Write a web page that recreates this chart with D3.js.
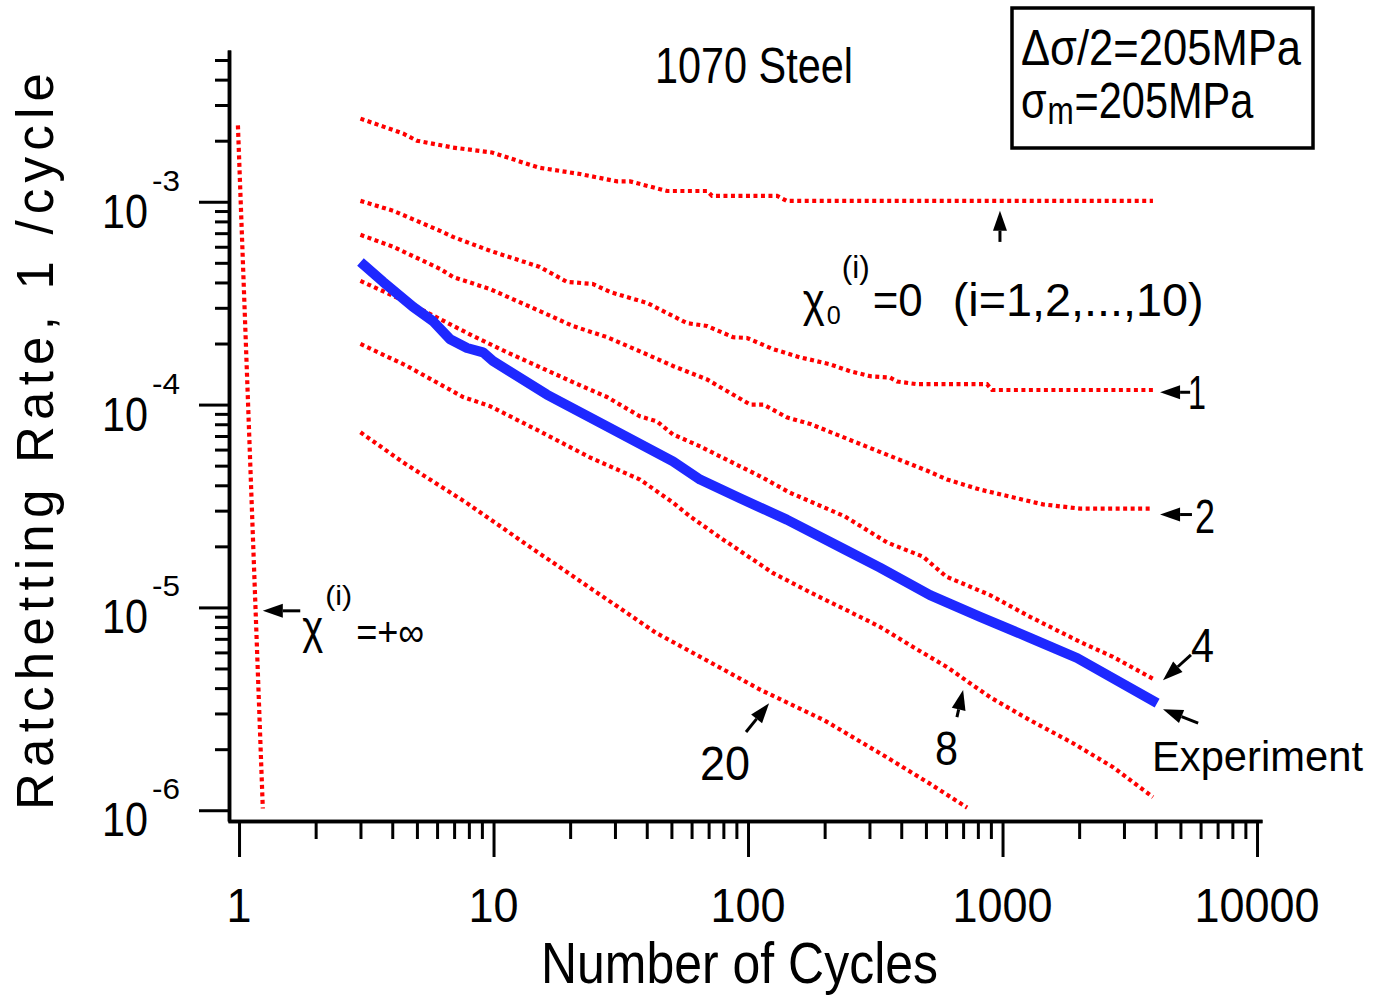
<!DOCTYPE html>
<html><head><meta charset="utf-8">
<script src="https://cdn.jsdelivr.net/npm/d3@7"></script>
<style>
html,body{margin:0;padding:0;background:#fff;}
svg{display:block;}
text{font-family:"Liberation Sans",Arial,sans-serif;fill:#000;}
</style></head>
<body>
<svg id="chart" width="1373" height="996"></svg>
<script>
// ---------- data ----------
const xTickValues = [1, 10, 100, 1000, 10000];
const xTickLabels = ["1", "10", "100", "1000", "10000"];
const yTickValues = [1e-6, 1e-5, 1e-4, 1e-3];
const yTickExponents = ["-6", "-5", "-4", "-3"];

// simulated curves: [cycles, ratchetting rate]
const chi0 = [[3,2.57e-3],[4.41,2.17e-3],[5.0,2.0e-3],[6.93,1.85e-3],[9.86,1.75e-3],[13.5,1.54e-3],[15.2,1.47e-3],[21.9,1.37e-3],[30.6,1.26e-3],[34.4,1.26e-3],[48.1,1.13e-3],[69,1.13e-3],[72.2,1.07e-3],[130,1.07e-3],[142,1.01e-3],[3900,1.01e-3]];
const chi1 = [[3,1.01e-3],[4.03,9.03e-4],[6.16,7.19e-4],[6.93,6.71e-4],[9.69,5.73e-4],[15.2,4.77e-4],[19.4,4.03e-4],[24.6,3.93e-4],[28.7,3.59e-4],[40.1,3.17e-4],[57.6,2.52e-4],[69,2.44e-4],[87.3,2.15e-4],[99.1,2.13e-4],[125,1.88e-4],[160,1.71e-4],[210,1.58e-4],[252,1.46e-4],[302,1.38e-4],[361,1.36e-4],[385,1.30e-4],[461,1.26e-4],[869,1.26e-4],[910,1.18e-4],[3900,1.18e-4]];
const chi2 = [[3,6.87e-4],[4.03,6.0e-4],[6.16,4.67e-4],[6.93,4.26e-4],[9.69,3.71e-4],[15.2,2.89e-4],[20.5,2.44e-4],[27.9,2.15e-4],[37.6,1.83e-4],[50.7,1.55e-4],[69,1.33e-4],[102,1.0e-4],[115,1.0e-4],[142,8.65e-5],[177,7.99e-5],[291,6.22e-5],[514,4.68e-5],[605,4.27e-5],[816,3.81e-5],[1443,3.22e-5],[2017,3.07e-5],[3900,3.07e-5]];
const chi4 = [[3,4.07e-4],[4.57,3.20e-4],[6.16,2.64e-4],[8.30,2.18e-4],[11.3,1.81e-4],[15.2,1.53e-4],[20.5,1.29e-4],[27.9,1.09e-4],[37.6,8.75e-5],[43.9,8.26e-5],[50.7,7.13e-5],[64.8,6.22e-5],[93,4.96e-5],[112,4.42e-5],[146,3.68e-5],[240,2.81e-5],[352,2.09e-5],[487,1.78e-5],[600,1.42e-5],[893,1.15e-5],[1282,8.99e-6],[2017,6.76e-6],[2719,5.70e-6],[3900,4.45e-6]];
const chi8 = [[3,1.99e-4],[4.57,1.55e-4],[7.59,1.09e-4],[9.69,9.82e-5],[15.2,7.38e-5],[23.9,5.49e-5],[37.6,4.27e-5],[50.7,3.29e-5],[59.2,2.81e-5],[76.9,2.23e-5],[125,1.48e-5],[177,1.18e-5],[291,8.69e-6],[330,8.02e-6],[445,6.38e-6],[605,5.08e-6],[893,3.61e-6],[1282,2.78e-6],[1892,2.14e-6],[2719,1.63e-6],[3900,1.16e-6]];
const chi20 = [[3,7.30e-5],[4.41,5.19e-5],[7.80,3.29e-5],[13.8,2.0e-5],[24.6,1.22e-5],[43.5,7.49e-6],[76.9,5.08e-6],[112,3.92e-6],[136,3.49e-6],[199,2.78e-6],[352,1.82e-6],[514,1.36e-6],[726,1.03e-6]];
const chiInf = [[0.99,2.38e-3],[1.24,1.02e-6]];
const experiment = [[3,5.05e-4],[3.68,4.03e-4],[4.83,3.03e-4],[5.78,2.58e-4],[6.75,2.10e-4],[7.87,1.90e-4],[9.09,1.81e-4],[9.95,1.64e-4],[16.2,1.12e-4],[27.9,7.81e-5],[50.7,5.25e-5],[64.8,4.27e-5],[93,3.45e-5],[142,2.71e-5],[240,1.93e-5],[330,1.57e-5],[519,1.15e-5],[816,8.99e-6],[1282,7.08e-6],[1963,5.63e-6],[4050,3.37e-6]];

// annotation arrows: [tip, tail] in data coordinates
const arrows = [
  [[977,9.03e-4],[977,6.34e-4]],
  [[4160,1.15e-4],[5460,1.15e-4]],
  [[4160,2.87e-5],[5550,2.87e-5]],
  [[4270,4.38e-6],[5500,5.83e-6]],
  [[4270,3.15e-6],[5870,2.69e-6]],
  [[700,3.92e-6],[662,2.88e-6]],
  [[121,3.37e-6],[98.2,2.43e-6]],
  [[1.24,9.62e-6],[1.74,9.62e-6]]
];
// curve labels: text, position (data), width
const curveLabels = [
  {t:"1", at:[5357,9.49e-5], w:18, s:48},
  {t:"2", at:[5705,2.34e-5], w:20, s:48},
  {t:"4", at:[5507,5.38e-6], w:23, s:48},
  {t:"8", at:[543,1.67e-6], w:23, s:48},
  {t:"20", at:[64.8,1.41e-6], w:50, s:48},
  {t:"Experiment", at:[3866,1.57e-6], w:211, s:43}
];

// ---------- scales ----------
const svg = d3.select("#chart");
const x = d3.scaleLog().domain([0.905, 10460]).range([228, 1262]);
const y = d3.scaleLog().domain([0.885e-6, 5.6e-3]).range([821, 50]);

function txt(parent, s, px, py, size, len, anchor, adj) {
  const t = parent.append("text").attr("x", px).attr("y", py)
    .attr("font-size", size).attr("text-anchor", anchor || "start").text(s);
  if (len) t.attr("textLength", len).attr("lengthAdjust", adj || "spacingAndGlyphs");
  return t;
}

// ---------- axes ----------
const xMinor = [];
for (let k = 0; k < 4; k++) for (let m = 2; m <= 9; m++) xMinor.push(m * Math.pow(10, k));
const yMinor = [];
for (let k = -6; k <= -3; k++) for (let m = 2; m <= 9; m++) { const v = m * Math.pow(10, k); if (v <= 5.2e-3) yMinor.push(v); }

function styleAxis(g) {
  g.select(".domain").attr("stroke-width", 3.5).attr("stroke", "#000");
  g.selectAll(".tick line").attr("stroke-width", 3).attr("stroke", "#000");
  g.selectAll(".tick text").remove();
}
svg.append("g").attr("transform", "translate(0,821)")
  .call(d3.axisBottom(x).tickValues(xMinor).tickSize(18).tickSizeOuter(0).tickFormat("")).call(styleAxis);
svg.append("g").attr("transform", "translate(0,821)")
  .call(d3.axisBottom(x).tickValues(xTickValues).tickSize(36).tickSizeOuter(0).tickFormat("")).call(styleAxis);
svg.append("g").attr("transform", "translate(229,0)")
  .call(d3.axisLeft(y).tickValues(yMinor).tickSize(14).tickSizeOuter(0).tickFormat("")).call(styleAxis);
svg.append("g").attr("transform", "translate(229,0)")
  .call(d3.axisLeft(y).tickValues(yTickValues).tickSize(30).tickSizeOuter(0).tickFormat("")).call(styleAxis);

// tick labels
xTickValues.forEach((v, i) => {
  txt(svg, xTickLabels[i], x(v), 922, 48, 25 * xTickLabels[i].length, "middle");
});
yTickValues.forEach((v, i) => {
  const py = y(v);
  txt(svg, "10", 102, py + 26, 48, 46);
  txt(svg, yTickExponents[i], 152, py - 11, 30, 28);
});

// axis titles
txt(svg, "Number of Cycles", 541, 983, 57, 397);
svg.append("text").attr("transform", "translate(53,810) rotate(-90)")
  .attr("font-size", 51).attr("textLength", 737).attr("lengthAdjust", "spacing")
  .text("Ratchetting Rate, 1 /cycle");

// title
txt(svg, "1070 Steel", 655, 83, 50, 198);

// legend box
svg.append("rect").attr("x", 1012).attr("y", 8).attr("width", 301).attr("height", 140)
  .attr("fill", "none").attr("stroke", "#000").attr("stroke-width", 3.5);
txt(svg, "Δσ/2=205MPa", 1021, 65, 50, 280);
const l2g = svg.append("g").attr("transform", "translate(1021,118) scale(0.83,1)");
const l2 = l2g.append("text").attr("x", 0).attr("y", 0).attr("font-size", 50);
l2.append("tspan").text("σ");
l2.append("tspan").attr("font-size", 38).attr("dy", 6).attr("dx", 1).text("m");
l2.append("tspan").attr("dy", -6).attr("dx", 1).text("=205MPa");

// ---------- curves ----------
const line = d3.line().x(d => x(d[0])).y(d => y(d[1]));
[chi0, chi1, chi2, chi4, chi8, chi20, chiInf].forEach(c => {
  svg.append("path").datum(c).attr("d", line).attr("fill", "none")
    .attr("stroke", "#ff0000").attr("stroke-width", 4.2).attr("stroke-dasharray", "4,3.5");
});
svg.append("path").datum(experiment).attr("d", line).attr("fill", "none")
  .attr("stroke", "#1e28ff").attr("stroke-width", 10).attr("stroke-linejoin", "round").attr("stroke-linecap", "butt");

// ---------- annotations ----------
arrows.forEach(([tip, tail]) => {
  const x2 = x(tip[0]), y2 = y(tip[1]), x1 = x(tail[0]), y1 = y(tail[1]);
  const a = Math.atan2(y2 - y1, x2 - x1), L = 20, hw = 7;
  const bx = x2 - L * Math.cos(a), by = y2 - L * Math.sin(a);
  svg.append("line").attr("x1", x1).attr("y1", y1).attr("x2", bx).attr("y2", by)
    .attr("stroke", "#000").attr("stroke-width", 3);
  svg.append("path").attr("d", `M${x2},${y2}L${bx + hw * Math.sin(a)},${by - hw * Math.cos(a)}L${bx - hw * Math.sin(a)},${by + hw * Math.cos(a)}Z`)
    .attr("fill", "#000");
});
curveLabels.forEach(c => txt(svg, c.t, x(c.at[0]), y(c.at[1]), c.s, c.w));

// chi0 label anchored at data point
const g0 = svg.append("g").attr("transform", `translate(${x(164)},${y(2.73e-4)})`);
txt(g0, "χ", 0, 0, 46, 22);
txt(g0, "0", 24, 8, 26, 14);
txt(g0, "(i)", 39, -38, 32, 28);
txt(g0, "=0", 70, 0, 46, 50);
txt(g0, "(i=1,2,...,10)", 150, 0, 46, 251);

// chi infinity label
const gi = svg.append("g").attr("transform", `translate(${x(1.77)},${y(6.68e-6)})`);
txt(gi, "χ", 0, 0, 46, 21);
txt(gi, "(i)", 23, -38, 27, 27);
txt(gi, "=+∞", 54, 3, 40, 68);
</script>
</body></html>
